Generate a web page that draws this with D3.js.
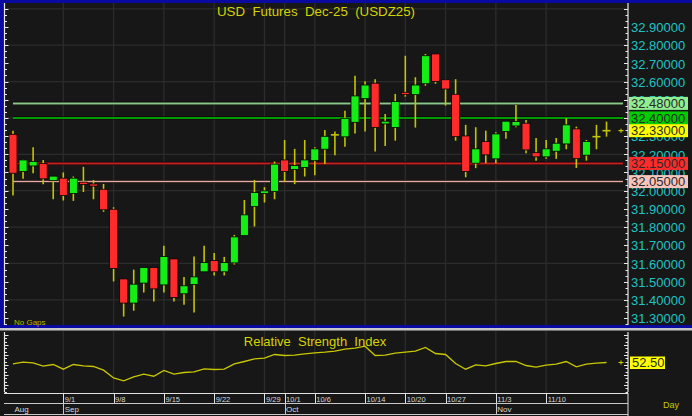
<!DOCTYPE html>
<html><head><meta charset="utf-8">
<script src="https://cdn.jsdelivr.net/npm/d3@7"></script>
<style>html,body{margin:0;padding:0;background:#d4d0c8;overflow:hidden}svg{display:block}</style>
</head><body><svg id="c" width="692" height="416"></svg>
<script>
// ---------- DATA ----------
const dates = ["8/25","8/26","8/27","8/28","8/29",
  "9/1","9/2","9/3","9/4","9/5","9/8","9/9","9/10","9/11","9/12",
  "9/15","9/16","9/17","9/18","9/19","9/22","9/23","9/24","9/25","9/26",
  "9/29","9/30","10/1","10/2","10/3","10/6","10/7","10/8","10/9","10/10",
  "10/14","10/15","10/16","10/17","10/20","10/21","10/22","10/23",
  "10/27","10/28","10/29","10/30","10/31","11/3","11/4","11/5","11/6","11/7",
  "11/10","11/11","11/12","11/13","11/14","11/17","11/18"];
const open  = [32.310,32.105,32.136,32.149,32.055,32.069,31.984,32.047,32.037,32.008,
  31.898,31.515,31.382,31.492,31.577,31.482,31.625,31.433,31.484,31.554,
  31.616,31.554,31.603,31.753,31.913,31.984,31.995,32.169,32.116,32.127,
  32.165,32.228,32.307,32.296,32.376,32.506,32.591,32.367,32.347,32.541,
  32.528,32.588,32.752,32.610,32.530,32.301,32.151,32.270,32.175,32.325,
  32.356,32.371,32.209,32.186,32.217,32.257,32.340,32.195,32.297,32.330];
const high  = [32.330,32.170,32.239,32.169,32.080,32.100,32.078,32.131,32.059,32.037,
  31.909,31.515,31.566,31.577,31.577,31.697,31.625,31.525,31.638,31.697,
  31.657,31.636,31.757,31.949,32.059,32.019,32.160,32.279,32.230,32.279,
  32.239,32.334,32.325,32.440,32.632,32.602,32.613,32.422,32.532,32.742,
  32.624,32.752,32.752,32.610,32.613,32.362,32.349,32.330,32.321,32.382,
  32.471,32.389,32.290,32.279,32.290,32.398,32.352,32.279,32.362,32.380];
const low   = [31.973,32.065,32.096,32.036,31.953,31.946,31.944,31.993,31.953,31.884,
  31.501,31.308,31.340,31.440,31.391,31.440,31.391,31.373,31.330,31.554,
  31.534,31.534,31.594,31.753,31.803,31.935,31.953,32.047,32.036,32.078,
  32.085,32.147,32.195,32.242,32.314,32.325,32.215,32.246,32.275,32.517,
  32.347,32.577,32.588,32.468,32.275,32.074,32.124,32.151,32.151,32.285,
  32.349,32.206,32.165,32.175,32.175,32.228,32.125,32.165,32.228,32.297];
const close = [32.096,32.169,32.160,32.065,32.080,31.973,32.069,32.034,32.025,31.895,
  31.572,31.382,31.486,31.577,31.460,31.638,31.413,31.477,31.526,31.605,
  31.554,31.605,31.746,31.867,31.990,31.999,32.146,32.105,32.138,32.169,
  32.230,32.299,32.307,32.398,32.521,32.581,32.347,32.382,32.490,32.528,
  32.581,32.742,32.600,32.559,32.297,32.105,32.230,32.197,32.312,32.382,
  32.380,32.224,32.186,32.230,32.261,32.362,32.176,32.270,32.297,32.330];
const rsi = [51.1,52.8,52.1,48.8,50.5,45.8,50.5,49.1,48.5,44.8,
  37.1,34.1,38.1,40.8,38.8,44.5,40.8,42.5,43.1,46.1,
  45.5,45.8,51.1,53.5,56.1,56.8,60.5,59.5,59.8,61.1,
  62.1,62.8,63.8,65.8,66.8,68.8,59.5,59.8,61.8,62.8,
  63.8,67.5,61.5,60.5,51.5,45.8,50.1,49.1,51.5,53.5,
  53.5,49.5,47.8,49.8,50.8,53.5,48.1,50.8,51.8,52.5];
const priceTicks = [32.9,32.8,32.7,32.6,32.5,32.4,32.3,32.2,32.1,32.0,31.9,31.8,31.7,31.6,31.5,31.4,31.3];
const gridPrices = [33.0,32.8,32.6,32.4,32.2,32.0,31.8,31.6,31.4];
const levels = [32.48, 32.40, 32.15, 32.05];
const lastPrice = 32.33;
const lastRsi = 52.50;
const weekTicks = ["9/1","9/8","9/15","9/22","9/29","10/1","10/6","10/14","10/20","10/27","11/3","11/10"];
const monthNames = ["Aug","Sep","Oct","Nov"];
const monthStarts = ["8/25","9/1","10/1","11/3"];
const title = "USD  Futures  Dec-25  (USDZ25)";
const rsiTitle = "Relative  Strength  Index";

// ---------- STYLE ----------
const levelStyle = [
  {line:"#8cc88c", box:"#90ee90", w:2},
  {line:"#00cc00", box:"#00cc00", w:1.5},
  {line:"#c82020", box:"#ff2a2a", w:2},
  {line:"#e8aaa2", box:"#f8c4bc", w:1.5}
];
const FONT = "'Liberation Sans', Arial, sans-serif";
const BG = "#171717", GRID = "#2c2c2c", WICK = "#c4c400", UP = "#14ee14", DN = "#ff2a2a";

const svg = d3.select("#c");
// frames
svg.append("rect").attr("x",0).attr("y",0).attr("width",692).attr("height",416).attr("fill","#d4d0c8");
svg.append("rect").attr("x",0).attr("y",0).attr("width",692).attr("height",328).attr("fill","#0a0aa0");
svg.append("rect").attr("x",3).attr("y",3).attr("width",689).attr("height",322).attr("fill",BG);
svg.append("rect").attr("x",0).attr("y",330).attr("width",692).attr("height",86).attr("fill",BG);

const x = d3.scalePoint().domain(dates).range([13, 606.5]);
const y = d3.scaleLinear().domain([31.3, 32.9]).range([318, 27]);
const yr = d3.scaleLinear().domain([24, 82]).range([391, 333]);

const plot = svg.append("g");
plot.selectAll(".hg").data(gridPrices).join("line")
  .attr("x1",5).attr("x2",627).attr("y1",d=>y(d)).attr("y2",d=>y(d))
  .attr("stroke",GRID).attr("stroke-width",1.3);
[[3,325],[331,393]].forEach(([a,b])=>{
  plot.append("g").selectAll("line").data(weekTicks).join("line")
    .attr("x1",d=>x(d)).attr("x2",d=>x(d)).attr("y1",a).attr("y2",b)
    .attr("stroke",GRID).attr("stroke-width",1.3);
});

// level lines (dark edge + colour)
plot.selectAll(".lvb").data(levels).join("line")
  .attr("x1",x(dates[0])).attr("x2",623).attr("y1",d=>y(d)).attr("y2",d=>y(d))
  .attr("stroke","#050505").attr("stroke-width",(d,i)=>levelStyle[i].w+1.2);
plot.selectAll(".lv").data(levels).join("line")
  .attr("x1",x(dates[0])).attr("x2",623).attr("y1",d=>y(d)).attr("y2",d=>y(d))
  .attr("stroke",(d,i)=>levelStyle[i].line).attr("stroke-width",(d,i)=>levelStyle[i].w);

// candles
const idx = d3.range(dates.length);
const cg = svg.append("g");
cg.selectAll(".wk").data(idx).join("line")
  .attr("x1",i=>x(dates[i])).attr("x2",i=>x(dates[i]))
  .attr("y1",i=>y(high[i])).attr("y2",i=>y(low[i]))
  .attr("stroke",WICK).attr("stroke-width",1.6);
const bw = 8;
cg.selectAll(".bd").data(idx.filter(i=>Math.abs(close[i]-open[i])>0.0005)).join("rect")
  .attr("x",i=>x(dates[i])-bw/2).attr("width",bw)
  .attr("y",i=>y(Math.max(open[i],close[i])))
  .attr("height",i=>Math.max(1.5,Math.abs(y(open[i])-y(close[i]))))
  .attr("fill",i=>close[i]>open[i]?UP:DN)
  .attr("stroke","#050505").attr("stroke-width",0.8);
cg.selectAll(".dj").data(idx.filter(i=>Math.abs(close[i]-open[i])<=0.0005)).join("line")
  .attr("x1",i=>x(dates[i])-bw/2).attr("x2",i=>x(dates[i])+bw/2)
  .attr("y1",i=>y(close[i])).attr("y2",i=>y(close[i]))
  .attr("stroke",WICK).attr("stroke-width",1.6);

function plus(px,py){
  svg.append("path").attr("d",`M${px-2.5},${py}H${px+2.5}M${px},${py-2}V${py+2}`)
    .attr("stroke",WICK).attr("stroke-width",1.2);
}
plus(621, y(lastPrice));
plus(621, yr(lastRsi));

svg.append("text").attr("x",316).attr("y",16).attr("text-anchor","middle")
  .attr("font-family",FONT).attr("font-size",13.3).attr("fill","#d4d400")
  .style("white-space","pre").text(title);
svg.append("text").attr("x",14).attr("y",325).attr("font-family",FONT).attr("font-size",8)
  .attr("fill","#b8b800").text("No Gaps");

function minorAxis(g, scale, x0, dir, from, to, step, majorEvery){
  g.append("line").attr("x1",x0).attr("x2",x0).attr("y1",from).attr("y2",to).attr("stroke","#e8e8e8").attr("stroke-width",1.2);
  const d0 = scale.invert(to), d1 = scale.invert(from);
  const k0 = Math.ceil(Math.min(d0,d1)/step), k1 = Math.floor(Math.max(d0,d1)/step);
  for(let k=k0;k<=k1;k++){
    const len = (k % majorEvery===0)?4:2.5;
    const yy = Math.round(scale(k*step))+0.5;
    g.append("line").attr("x1",x0).attr("x2",x0+dir*len).attr("y1",yy).attr("y2",yy)
      .attr("stroke","#e8e8e8").attr("stroke-width",1);
  }
}
const ax = svg.append("g");
minorAxis(ax, y, 4.5, 1, 3, 325, 0.1/3, 3);
minorAxis(ax, y, 628, -1, 3, 325, 0.1/3, 3);
minorAxis(ax, yr, 4.5, 1, 332, 392, 10/3, 3);
minorAxis(ax, yr, 628, -1, 332, 392, 10/3, 3);

const rAxis = d3.axisRight(y).tickValues(priceTicks).tickSize(0).tickPadding(0).tickFormat(d3.format(".5f"));
const ra = svg.append("g").attr("transform","translate(631,0)").call(rAxis);
ra.select(".domain").remove();
ra.selectAll("text").attr("font-family",FONT).attr("font-size",13).attr("fill","#1ec4c4").attr("dy","0.36em");

const allLv = levels.map((v,i)=>({v, box:levelStyle[i].box})).concat([{v:lastPrice, box:"#ffff00"}]);
allLv.sort((a,b)=>b.v-a.v);
const bx = svg.append("g");
allLv.forEach(o=>{
  bx.append("rect").attr("x",629).attr("y",y(o.v)-6.5).attr("width",59).attr("height",13).attr("fill",o.box);
  bx.append("text").attr("x",631).attr("y",y(o.v)).attr("dy","0.36em").attr("font-family",FONT)
    .attr("font-size",13).attr("fill","#2a2a2a").text(d3.format(".5f")(o.v));
});

svg.append("rect").attr("x",0).attr("y",328).attr("width",692).attr("height",2.5).attr("fill","#c8c8c8");
const line = d3.line().x((d,i)=>x(dates[i])).y(d=>yr(d));
svg.append("path").datum(rsi).attr("d",line).attr("fill","none").attr("stroke","#c8c800").attr("stroke-width",1.3);
svg.append("text").attr("x",315).attr("y",346).attr("text-anchor","middle")
  .attr("font-family",FONT).attr("font-size",13).attr("fill","#d4d400")
  .style("white-space","pre").text(rsiTitle);
svg.append("rect").attr("x",630).attr("y",yr(lastRsi)-6).attr("width",35).attr("height",12.5).attr("fill","#ffff00");
svg.append("text").attr("x",632).attr("y",yr(lastRsi)).attr("dy","0.36em").attr("font-family",FONT)
  .attr("font-size",13).attr("fill","#2a2a2a").text(d3.format(".2f")(lastRsi));

const da = svg.append("g");
da.append("line").attr("x1",4).attr("x2",628).attr("y1",393.5).attr("y2",393.5).attr("stroke","#e0e0e0");
da.append("line").attr("x1",4).attr("x2",628).attr("y1",403.5).attr("y2",403.5).attr("stroke","#c8c8c8");
da.append("line").attr("x1",4).attr("x2",628).attr("y1",414.5).attr("y2",414.5).attr("stroke","#c8c8c8");
da.selectAll(".wt").data(weekTicks).join("line")
  .attr("x1",d=>Math.round(x(d))+0.5).attr("x2",d=>Math.round(x(d))+0.5).attr("y1",393).attr("y2",403)
  .attr("stroke","#e0e0e0");
da.selectAll(".wl").data(weekTicks).join("text")
  .attr("x",d=>x(d)+1.5).attr("y",401.5).attr("font-family",FONT).attr("font-size",7.5)
  .attr("fill","#d8d8d8").text(d=>d);
da.selectAll(".mt").data(monthStarts.slice(1)).join("line")
  .attr("x1",d=>Math.round(x(d))+0.5).attr("x2",d=>Math.round(x(d))+0.5).attr("y1",403).attr("y2",415)
  .attr("stroke","#c8c8c8");
da.selectAll(".ml").data(monthNames).join("text")
  .attr("x",(d,i)=>x(monthStarts[i])+1.5).attr("y",412).attr("font-family",FONT).attr("font-size",8)
  .attr("fill","#d8d8d8").text(d=>d);
da.append("line").attr("x1",628).attr("x2",628).attr("y1",393).attr("y2",416).attr("stroke","#e0e0e0");
svg.append("text").attr("x",671).attr("y",408).attr("text-anchor","middle").attr("font-family",FONT)
  .attr("font-size",9).attr("fill","#c8c800").text("Day");
</script></body></html>
